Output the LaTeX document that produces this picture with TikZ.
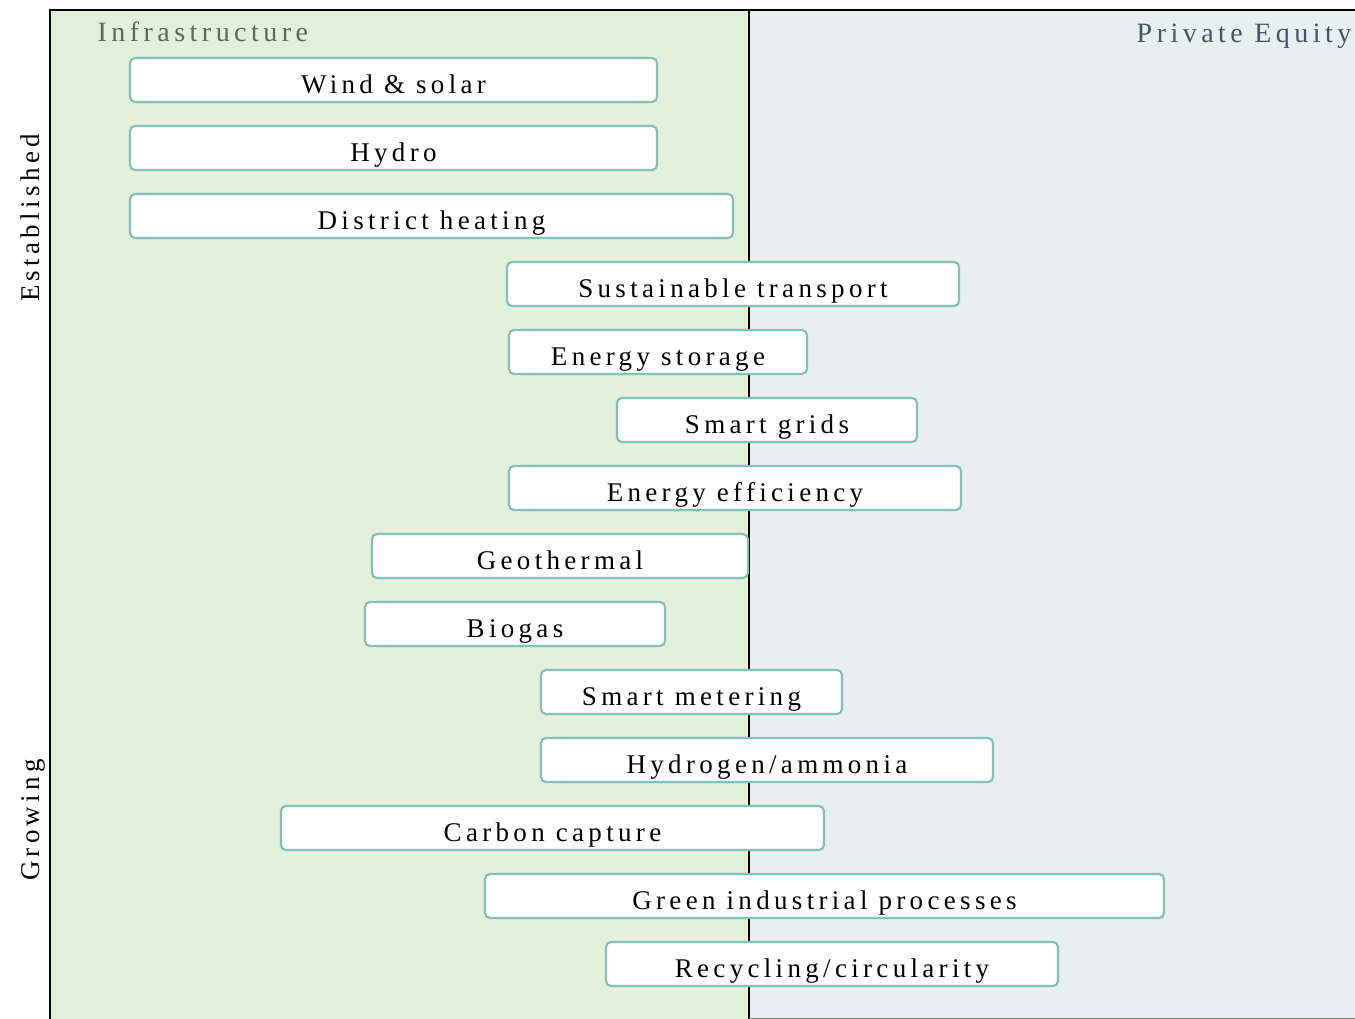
\documentclass[tikz,border=0pt]{standalone}
\usepackage{fontspec}
\setmainfont{Liberation Serif}[LetterSpace=16]
\definecolor{infragreen}{HTML}{E2EFDA}
\definecolor{equityblue}{HTML}{E7F0EE}
\definecolor{barteal}{HTML}{86BEBA}
\definecolor{infratext}{HTML}{5B6B50}
\definecolor{equitytext}{HTML}{44546A}
\tikzset{
    bar/.style={draw=barteal, fill=white, line width=2.2pt, rounded corners=5pt,
        minimum height=44pt, inner sep=0pt, text height=27pt, text depth=0pt,
        font=\fontsize{27}{31}\selectfont},
    stage/.style={rotate=90, anchor=base, font=\fontsize{27}{31}\selectfont},
    panel/.style={anchor=base, font=\fontsize{28}{32}\selectfont}
}
\begin{document}
\begin{tikzpicture}[x=1pt, y=-1pt]
        \useasboundingbox (0, 0) rectangle (1355, 1019);
        \begin{scope}
            % the two panels
            \fill[infragreen] (50, 10) rectangle (749, 1019);
            \fill[equityblue] (749, 10) rectangle (1355, 1019);
            \draw[line width=2.4pt] (50, 1019) -- (50, 10) -- (1355, 10);
            \draw[line width=2.2pt] (749, 10) -- (749, 1019);
            \draw[gray, line width=1pt] (749, 1018.5) -- (1355, 1018.5);
            \node[panel, anchor=base west, text=infratext] (infra) at (94, 42) {Infrastructure};
            \node[panel, anchor=base east, text=equitytext] (equity) at (1355, 43) {Private Equity};
            \node[stage] (established) at (39, 218) {Established};
            \node[stage] (growing) at (39, 820) {Growing};
        \end{scope}
        \begin{scope}
            % sectors
            \node[bar, minimum width=527pt] (wind) at (393.5, 80) {Wind \& solar};
            \node[bar, minimum width=527pt] (hydro) at (393.5, 148) {Hydro};
            \node[bar, minimum width=603pt] (district) at (431.5, 216) {District heating};
            \node[bar, minimum width=452pt] (transport) at (733, 284) {Sustainable transport};
            \node[bar, minimum width=298pt] (storage) at (658, 352) {Energy storage};
            \node[bar, minimum width=300pt] (grids) at (767, 420) {Smart grids};
            \node[bar, minimum width=452pt] (efficiency) at (735, 488) {Energy efficiency};
            \node[bar, minimum width=376pt] (geothermal) at (560, 556) {Geothermal};
            \node[bar, minimum width=300pt] (biogas) at (515, 624) {Biogas};
            \node[bar, minimum width=301pt] (metering) at (691.5, 692) {Smart metering};
            \node[bar, minimum width=452pt] (hydrogen) at (767, 760) {Hydrogen/ammonia};
            \node[bar, minimum width=543pt] (carbon) at (552.5, 828) {Carbon capture};
            \node[bar, minimum width=679pt] (industrial) at (824.5, 896) {Green industrial processes};
            \node[bar, minimum width=452pt] (recycling) at (832, 964) {Recycling/circularity};
        \end{scope}
    \end{tikzpicture}
\end{document}
